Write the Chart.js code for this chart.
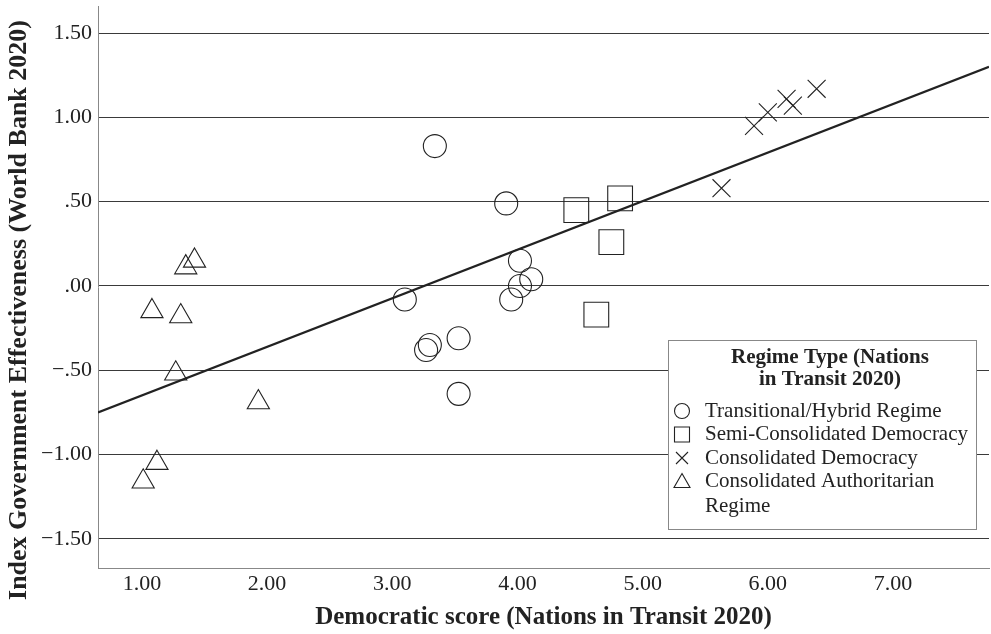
<!DOCTYPE html>
<html>
<head>
<meta charset="utf-8">
<script src="https://cdn.jsdelivr.net/npm/chart.js@4/dist/chart.umd.min.js"></script>
<style>
  html, body { margin: 0; padding: 0; background: #fff; }
</style>
</head>
<body>
<canvas id="scatter" width="991" height="634"></canvas>
<script>
// Values
const hybridX = [3.34, 3.91, 4.02, 4.11, 4.02, 3.95, 3.10, 3.30, 3.27, 3.53, 3.53];
const hybridY = [0.83, 0.49, 0.15, 0.04, 0.00, -0.08, -0.08, -0.35, -0.38, -0.31, -0.64];

const semiX = [4.47, 4.82, 4.75, 4.63];
const semiY = [0.45, 0.52, 0.26, -0.17];

const consX = [5.89, 6.00, 6.15, 6.20, 6.39, 5.63];
const consY = [0.95, 1.03, 1.11, 1.07, 1.17, 0.58];

const authX = [1.35, 1.42, 1.08, 1.31, 1.27, 1.93, 1.12, 1.01];
const authY = [0.11, 0.15, -0.15, -0.18, -0.52, -0.69, -1.05, -1.16];

// fit line end points (at the plot edges)
const fitX = [0.649, 7.767];
const fitY = [-0.75, 1.30];

const xTicks = [1, 2, 3, 4, 5, 6, 7];
const xTickLabels = ["1.00", "2.00", "3.00", "4.00", "5.00", "6.00", "7.00"];
const yTicks = [-1.5, -1, -0.5, 0, 0.5, 1, 1.5];
const yTickLabels = ["\u22121.50", "\u22121.00", "\u2212.50", ".00", ".50", "1.00", "1.50"];

const xTitle = "Democratic score (Nations in Transit 2020)";
const yTitle = "Index Government Effectiveness (World Bank 2020)";

const legendTitle = ["Regime Type (Nations", "in Transit 2020)"];
const legendItems = [
  { style: "circle", text: ["Transitional/Hybrid Regime"] },
  { style: "rect", text: ["Semi-Consolidated Democracy"] },
  { style: "crossRot", text: ["Consolidated Democracy"] },
  { style: "triangle", text: ["Consolidated Authoritarian", "Regime"] }
];

const pts = (xs, ys) => xs.map((x, i) => ({ x: x, y: ys[i] }));
const ink = "#222";
const serif = "'Liberation Serif', 'Times New Roman', serif";

// y title drawn by hand: the built-in one gets squeezed to the plot height
const yTitlePlugin = {
  id: "yTitle",
  afterDraw(chart) {
    const ctx = chart.ctx;
    ctx.save();
    ctx.translate(19, 310);
    ctx.rotate(-Math.PI / 2);
    ctx.fillStyle = ink;
    ctx.font = "bold 26px " + serif;
    ctx.textAlign = "center";
    ctx.textBaseline = "middle";
    ctx.fillText(yTitle, 0, 0);
    ctx.restore();
  }
};

// legend drawn in the lower right corner of the plot
const legendBox = {
  id: "legendBox",
  afterDraw(chart) {
    const ctx = chart.ctx;
    const area = chart.chartArea;
    const w = 308, h = 189;
    const x0 = area.right - 13 - w;
    const y0 = area.bottom - 39 - h;
    ctx.save();
    ctx.fillStyle = "#fff";
    ctx.fillRect(x0, y0, w, h);
    ctx.strokeStyle = "#888";
    ctx.lineWidth = 1;
    ctx.strokeRect(x0 + 0.5, y0 + 0.5, w, h);

    ctx.fillStyle = ink;
    ctx.textBaseline = "middle";
    ctx.textAlign = "center";
    ctx.font = "bold 21px " + serif;
    legendTitle.forEach((t, i) => ctx.fillText(t, x0 + 162, y0 + 18 + i * 22));

    ctx.textAlign = "left";
    ctx.font = "21px " + serif;
    ctx.strokeStyle = ink;
    ctx.lineWidth = 1.1;
    let y = y0 + 71;
    legendItems.forEach(item => {
      const mx = x0 + 14;
      ctx.beginPath();
      if (item.style === "circle") {
        ctx.arc(mx, y, 7.5, 0, Math.PI * 2);
      } else if (item.style === "rect") {
        ctx.rect(mx - 7.5, y - 7.5, 15, 15);
      } else if (item.style === "crossRot") {
        ctx.moveTo(mx - 6, y - 6); ctx.lineTo(mx + 6, y + 6);
        ctx.moveTo(mx + 6, y - 6); ctx.lineTo(mx - 6, y + 6);
      } else {
        ctx.moveTo(mx, y - 8); ctx.lineTo(mx + 8, y + 6); ctx.lineTo(mx - 8, y + 6); ctx.closePath();
      }
      ctx.stroke();
      item.text.forEach((t, i) => ctx.fillText(t, x0 + 37, y + i * 24.5));
      y += item.text.length === 1 ? 23.5 : 24;
    });
    ctx.restore();
  }
};

const marker = (style, r) => ({
  type: "scatter",
  pointStyle: style,
  pointRadius: r,
  pointHoverRadius: r,
  borderColor: ink,
  borderWidth: 1.1,
  backgroundColor: "rgba(0,0,0,0)"
});

new Chart(document.getElementById("scatter"), {
  type: "scatter",
  data: {
    datasets: [
      Object.assign(marker("circle", 11.5), { label: "Transitional/Hybrid Regime", data: pts(hybridX, hybridY) }),
      Object.assign(marker("rect", 17.5), { label: "Semi-Consolidated Democracy", data: pts(semiX, semiY) }),
      Object.assign(marker("crossRot", 12.7), { label: "Consolidated Democracy", data: pts(consX, consY) }),
      Object.assign(marker("triangle", 12.8), { label: "Consolidated Authoritarian Regime", data: pts(authX, authY) }),
      {
        type: "line",
        label: "Fit",
        data: pts(fitX, fitY),
        borderColor: ink,
        borderWidth: 2.2,
        pointRadius: 0,
        fill: false
      }
    ]
  },
  options: {
    responsive: false,
    animation: false,
    layout: { autoPadding: false, padding: { top: 6, right: 2, left: 0, bottom: 0 } },
    plugins: { legend: { display: false }, tooltip: { enabled: false } },
    scales: {
      x: {
        type: "linear",
        min: fitX[0],
        max: fitX[1],
        afterBuildTicks: s => { s.ticks = xTicks.map(v => ({ value: v })); },
        afterFit: s => { s.height = 66; s.paddingLeft = 0; s.paddingRight = 0; },
        grid: { display: false, drawTicks: false },
        border: { display: true, color: "#888", width: 1 },
        ticks: {
          color: ink,
          padding: 3,
          maxRotation: 0,
          font: { family: serif, size: 22 },
          callback: (v, i) => xTickLabels[i]
        },
        title: {
          display: true,
          text: xTitle,
          color: ink,
          padding: { top: 0, bottom: 1 },
          font: { family: serif, size: 25, weight: "bold" }
        }
      },
      y: {
        type: "linear",
        min: -1.673,
        max: 1.661,
        afterBuildTicks: s => { s.ticks = yTicks.map(v => ({ value: v })); },
        afterFit: s => { s.width = 98; s.paddingTop = 0; s.paddingBottom = 0; },
        grid: { color: "#3a3a3a", lineWidth: 1, drawTicks: false },
        border: { display: true, color: "#888", width: 1 },
        ticks: {
          color: ink,
          padding: 6,
          font: { family: serif, size: 22 },
          callback: (v, i) => yTickLabels[i]
        },
        title: { display: false }
      }
    }
  },
  plugins: [yTitlePlugin, legendBox]
});
</script>
</body>
</html>
